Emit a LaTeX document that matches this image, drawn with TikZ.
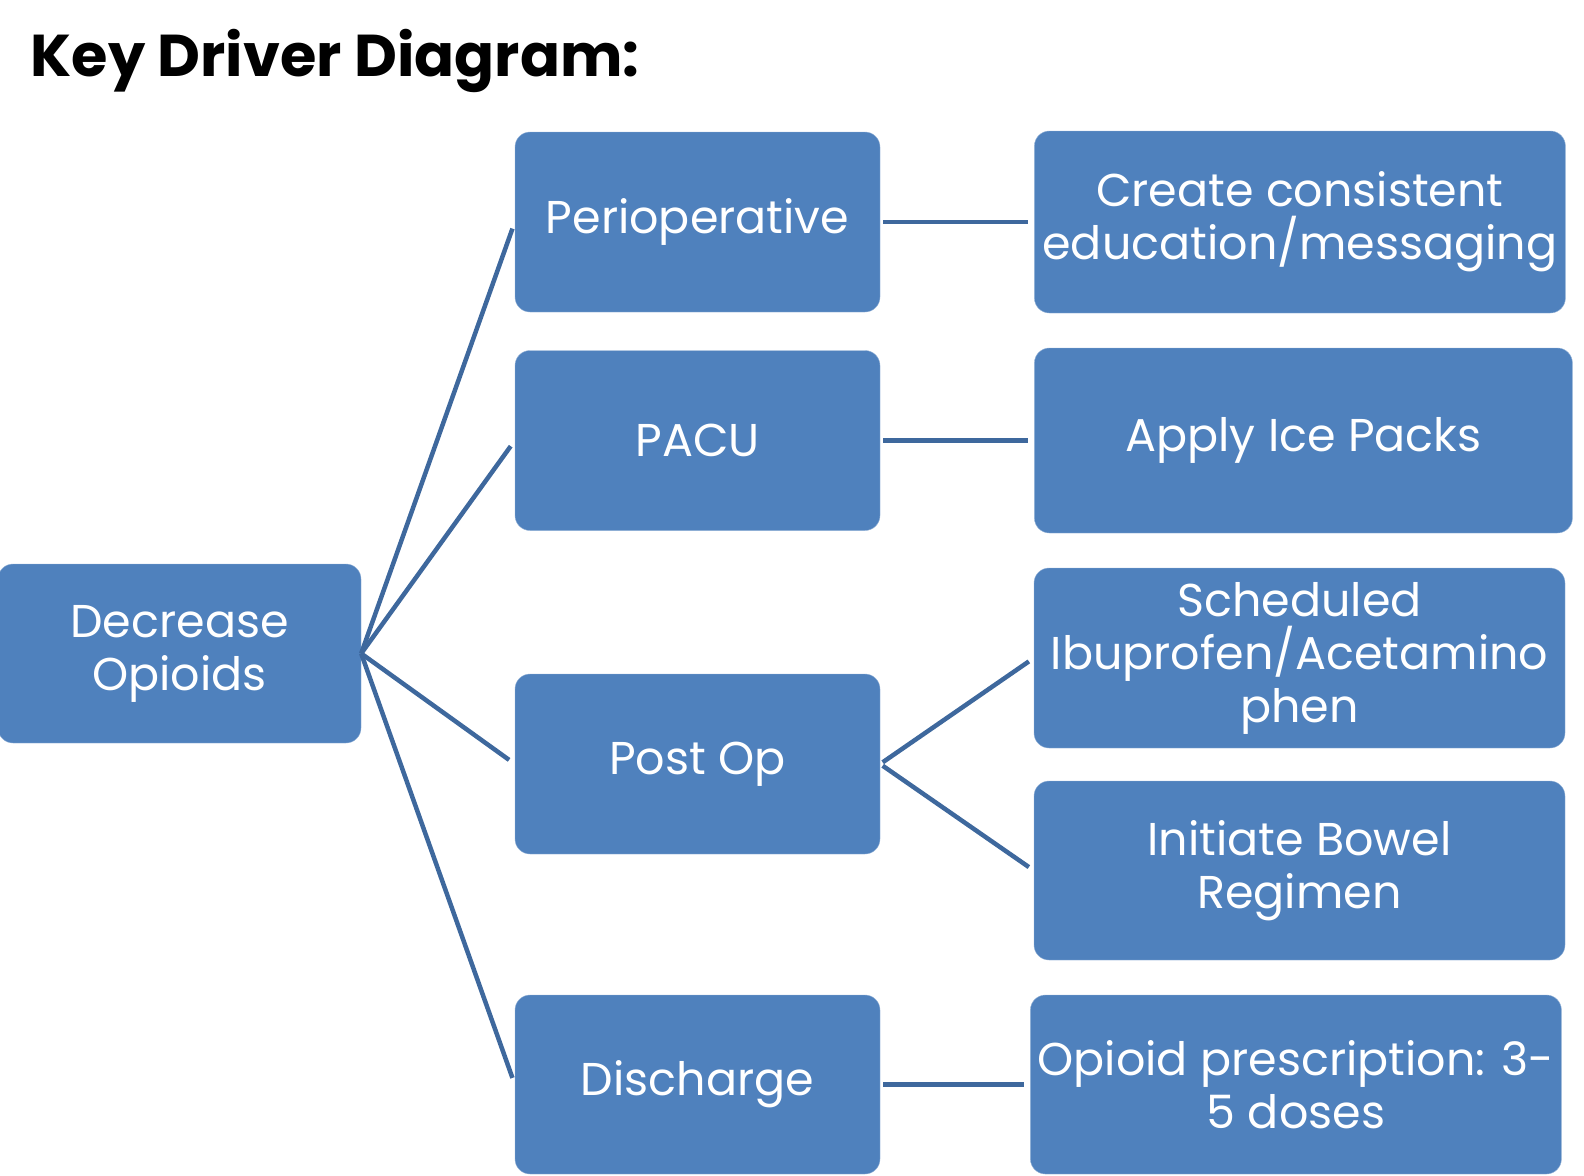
\documentclass[tikz,border=0pt]{standalone}
\usepackage{fontspec}
\setmainfont{Poppins}
\definecolor{azulCaixa}{RGB}{79,129,189}
\definecolor{azulLinha}{RGB}{62,104,157}
\usepackage{tikz}
\usetikzlibrary{positioning}
\tikzset{
  caixa/.style={rectangle, fill=azulCaixa, draw=azulCaixa!60!white, thin,
                rounded corners=15pt, minimum width=365pt, minimum height=180pt,
                align=center, text=white, inner sep=0pt,
                font=\fontsize{46}{53}\selectfont},
  linha/.style={line width=4.5pt, azulLinha},
}

\begin{document}
\begin{tikzpicture}[x=1pt, y=-1pt]
  \useasboundingbox (0,0) rectangle (1584,1175);
  \node[anchor=base west, font=\fontsize{59}{66}\selectfont\bfseries] (titulo) at (27,76) {Key Driver Diagram:};
  % raiz
  \node[caixa, minimum width=363pt, minimum height=179pt] (raiz) at (179.5,653.5) {Decrease\\Opioids};
  % fatores
  \node[caixa] (peri) at (697.5,222) {Perioperative};
  \node[caixa] (pacu) at (697.5,440.5) {PACU};
  \node[caixa] (posop) at (697.5,764) {Post Op};
  \node[caixa, minimum height=179pt] (alta) at (697.5,1084.5) {Discharge};
  % intervencoes
  \node[caixa, minimum width=531pt, minimum height=182pt, right=154pt of peri] (educ) {Create consistent\\education/messaging};
  \node[caixa, minimum width=538pt, minimum height=185pt, right=154pt of pacu] (gelo) {Apply Ice Packs};
  \node[caixa, minimum width=531pt] (ibup) at (1299.5,658) {Scheduled\\Ibuprofen/Acetamino\\phen};
  \node[caixa, minimum width=531pt, minimum height=179pt] (intest) at (1299.5,870.5) {Initiate Bowel\\Regimen};
  \node[caixa, minimum width=531pt, minimum height=179pt, right=150pt of alta] (dose) {Opioid prescription: 3-\\5 doses};
  \foreach \f in {peri,pacu,posop,alta}
    \draw[linha, shorten >=7pt] (raiz.east) -- (\f.west);
  \draw[linha, shorten <=3pt, shorten >=6pt] (peri.east) -- (educ.west);
  \draw[linha, shorten <=3pt, shorten >=6pt] (pacu.east) -- (gelo.west);
  \draw[linha, shorten <=3pt, shorten >=6pt] (posop.east) -- (ibup.west);
  \draw[linha, shorten <=3pt, shorten >=6pt] (posop.east) -- (intest.west);
  \draw[linha, shorten <=3pt, shorten >=6pt] (alta.east) -- (dose.west);
\end{tikzpicture}
\end{document}
